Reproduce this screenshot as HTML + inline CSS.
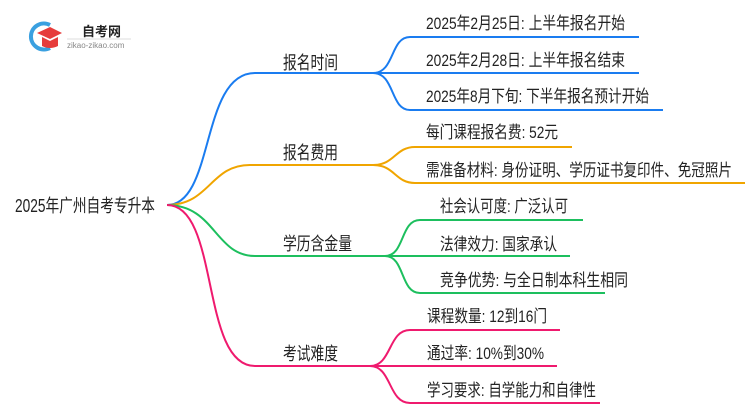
<!DOCTYPE html>
<html><head><meta charset="utf-8"><style>
html,body{margin:0;padding:0;background:#fff;}
svg{display:block;}
text{font-family:"Liberation Sans","Noto Sans CJK SC",sans-serif;fill:#222;}
</style></head><body>
<svg width="750" height="410" viewBox="0 0 750 410" xmlns="http://www.w3.org/2000/svg">
<path d="M50 25 A13 13 0 1 0 50 48" fill="none" stroke="#3aa0e0" stroke-width="4"/>
<path d="M37 33 L50 27 L62 33 L50 39 Z" fill="#e63c3c"/>
<path d="M42 37 L42 46 Q50 50 58 46 L58 37 L50 41 Z" fill="#e63c3c"/>
<text x="82" y="36" font-size="13" font-weight="bold" style="fill:#222">自考网</text>
<line x1="67" y1="39" x2="131" y2="39" stroke="#ddd" stroke-width="1"/>
<text x="67" y="48" font-size="8" style="fill:#888">zikao-zikao.com</text>

<text x="15" y="212" font-size="18" textLength="140" lengthAdjust="spacingAndGlyphs">2025年广州自考专升本</text>

<g fill="none" stroke-width="2">
<path d="M167 205 C215 205 200 73 255 73 L373 73" stroke="#1a7cf0"/>
<path d="M373 73 C395 73 390 37 410 37 L639 37" stroke="#1a7cf0"/>
<path d="M373 73 L639 73" stroke="#1a7cf0"/>
<path d="M373 73 C395 73 390 110 410 110 L663 110" stroke="#1a7cf0"/>
<path d="M167 205 C210 205 210 165 250 165 L373 165" stroke="#f0a500"/>
<path d="M373 165 C395 165 395 147 415 147 L572 147" stroke="#f0a500"/>
<path d="M373 165 C395 165 395 183 415 183 L745 183" stroke="#f0a500"/>
<path d="M167 205 C215 205 215 256 255 256 L385 256" stroke="#1dbf5e"/>
<path d="M385 256 C405 256 400 220 420 220 L583 220" stroke="#1dbf5e"/>
<path d="M385 256 L570 256" stroke="#1dbf5e"/>
<path d="M385 256 C405 256 400 293 420 293 L605 293" stroke="#1dbf5e"/>
<path d="M167 205 C220 205 200 366 255 366 L370 366" stroke="#ef1a6e"/>
<path d="M370 366 C392 366 388 330 410 330 L560 330" stroke="#ef1a6e"/>
<path d="M370 366 L557 366" stroke="#ef1a6e"/>
<path d="M370 366 C392 366 388 403 410 403 L600 403" stroke="#ef1a6e"/>
</g>

<g font-size="18">
<text x="283" y="69" textLength="55" lengthAdjust="spacingAndGlyphs">报名时间</text>
<text x="283" y="159" textLength="55" lengthAdjust="spacingAndGlyphs">报名费用</text>
<text x="283" y="250" textLength="69" lengthAdjust="spacingAndGlyphs">学历含金量</text>
<text x="283" y="360" textLength="55" lengthAdjust="spacingAndGlyphs">考试难度</text>
</g>
<g font-size="17">
<text x="426" y="29" textLength="199" lengthAdjust="spacingAndGlyphs">2025年2月25日: 上半年报名开始</text>
<text x="426" y="66" textLength="199" lengthAdjust="spacingAndGlyphs">2025年2月28日: 上半年报名结束</text>
<text x="426" y="102" textLength="223" lengthAdjust="spacingAndGlyphs">2025年8月下旬: 下半年报名预计开始</text>
<text x="426" y="138" textLength="132" lengthAdjust="spacingAndGlyphs">每门课程报名费: 52元</text>
<text x="426" y="176" textLength="306" lengthAdjust="spacingAndGlyphs">需准备材料: 身份证明、学历证书复印件、免冠照片</text>
<text x="440" y="212" textLength="128" lengthAdjust="spacingAndGlyphs">社会认可度: 广泛认可</text>
<text x="440" y="250" textLength="117" lengthAdjust="spacingAndGlyphs">法律效力: 国家承认</text>
<text x="440" y="286" textLength="188" lengthAdjust="spacingAndGlyphs">竞争优势: 与全日制本科生相同</text>
<text x="427" y="322" textLength="120" lengthAdjust="spacingAndGlyphs">课程数量: 12到16门</text>
<text x="427" y="359" textLength="117" lengthAdjust="spacingAndGlyphs">通过率: 10%到30%</text>
<text x="427" y="396" textLength="169" lengthAdjust="spacingAndGlyphs">学习要求: 自学能力和自律性</text>
</g>
</svg>
</body></html>
